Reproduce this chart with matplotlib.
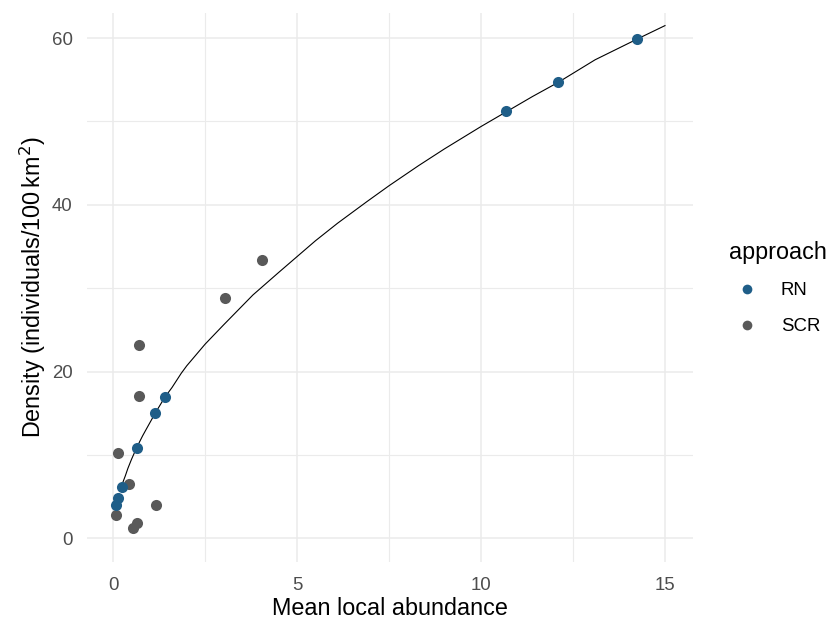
import matplotlib.pyplot as plt
from matplotlib.lines import Line2D

### data ###
rn_x = [0.08, 0.14, 0.23, 0.64, 1.14, 1.41, 10.68, 12.09, 14.25]
rn_y = [4.0, 4.9, 6.2, 10.9, 15.0, 16.9, 51.2, 54.7, 59.9]
scr_x = [0.07, 0.14, 0.44, 0.55, 0.66, 0.69, 0.69, 1.16, 3.04, 4.04]
scr_y = [2.8, 10.2, 6.5, 1.3, 1.8, 17.1, 23.2, 4.0, 28.8, 33.4]
# fitted line
curve_x = [0.27, 0.33, 0.4, 0.5, 0.64, 0.8, 0.9, 1.14, 1.4, 1.6, 1.85, 2.0, 2.5, 3.0, 3.4, 3.8, 4.5, 5.0, 5.5,
	6.1, 6.9, 7.5, 8.3, 9.0, 10.0, 10.7, 11.4, 12.1, 13.1, 14.25, 15.0]
curve_y = [6.8, 7.5, 8.4, 9.5, 10.9, 12.3, 13.1, 15.0, 16.9, 18.1, 19.8, 20.7, 23.3, 25.6, 27.4, 29.2, 31.9, 33.8, 35.7,
	37.8, 40.4, 42.3, 44.7, 46.7, 49.4, 51.2, 53.0, 54.7, 57.4, 59.9, 61.5]
groups = ['RN', 'SCR']

### plotting parameters ###
col_rn = '#1f5e88'
col_scr = '#595959'
grid_col = '#ebebeb'
txt_col = '#4d4d4d'
fs = 16.8
fssml = 13.4
plt.rcParams['font.family'] = ['Liberation Sans', 'DejaVu Sans']

fig = plt.figure(figsize=(8.32, 6.22), dpi=100)
ax = fig.add_axes([0.1042, 0.0969, 0.7291, 0.8827])

ax.plot(curve_x, curve_y, color='black', linewidth=0.8, zorder=2)
ax.plot(scr_x, scr_y, 'o', color=col_scr, markersize=8, markeredgewidth=0, zorder=3)
ax.plot(rn_x, rn_y, 'o', color=col_rn, markersize=8, markeredgewidth=0, zorder=4)

ax.set_xlim(-0.72, 15.77)
ax.set_ylim(-2.8, 63.05)
ax.set_xticks([0, 5, 10, 15])
ax.set_xticks([2.5, 7.5, 12.5], minor=True)
ax.set_yticks([0, 20, 40, 60])
ax.set_yticks([10, 30, 50], minor=True)
ax.grid(which='major', color=grid_col, linewidth=1.1)
ax.grid(which='minor', color=grid_col, linewidth=0.8)
ax.set_axisbelow(True)
for sp in ax.spines.values():
	sp.set_visible(False)
ax.tick_params(which='both', length=0, labelsize=fssml, labelcolor=txt_col)
ax.tick_params(axis='x', pad=11)
ax.tick_params(axis='y', pad=10)

ax.set_xlabel('Mean local abundance', fontsize=fs, labelpad=2)
ax.set_ylabel('Density (individuals/100$\\,$km$^2$)', fontsize=fs, labelpad=3)

handles = [Line2D([], [], marker='o', linestyle='', color=c, markersize=7, markeredgewidth=0) for c in [col_rn, col_scr]]
leg = fig.legend(handles, groups, title='approach', loc='center left', bbox_to_anchor=(0.876, 0.537),
	frameon=False, fontsize=fssml, title_fontsize=fs, handlelength=2.0, handletextpad=0.8,
	labelspacing=1.0, borderpad=0, borderaxespad=0)
leg._legend_box.align = 'left'

plt.savefig('out.png', dpi=100)
plt.close()
